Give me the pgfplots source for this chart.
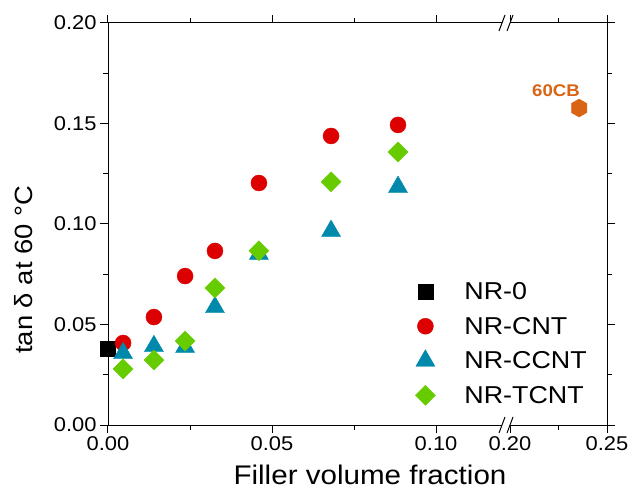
\documentclass[border=0pt]{standalone}
\usepackage{pgfplots}
\pgfplotsset{compat=1.18}
\usepackage{fontspec}
\setmainfont{Liberation Sans}[FakeStretch=1.1]
\usetikzlibrary{plotmarks}

\definecolor{cntred}{RGB}{221,0,0}
\definecolor{ccntblue}{RGB}{0,137,170}
\definecolor{tcntgreen}{RGB}{102,204,0}
\definecolor{cborange}{RGB}{217,100,20}

\pgfdeclareplotmark{hexagon*}{%
  \pgfpathmoveto{\pgfpointpolar{90}{\pgfplotmarksize}}%
  \pgfpathlineto{\pgfpointpolar{150}{\pgfplotmarksize}}%
  \pgfpathlineto{\pgfpointpolar{210}{\pgfplotmarksize}}%
  \pgfpathlineto{\pgfpointpolar{270}{\pgfplotmarksize}}%
  \pgfpathlineto{\pgfpointpolar{330}{\pgfplotmarksize}}%
  \pgfpathlineto{\pgfpointpolar{30}{\pgfplotmarksize}}%
  \pgfpathclose
  \pgfusepathqfillstroke}

\pgfplotsset{
  common/.style={
    scale only axis, height=402bp,
    ymin=0, ymax=0.2,
    ytick={0,0.05,0.1,0.15,0.2},
    minor y tick num=1,
    tick align=outside,
    major tick length=8bp, minor tick length=5bp,
    axis line style={draw=none},
    every tick/.style={black,line width=1bp},
    tick label style={font=\fontsize{20}{24}\selectfont},
    /pgf/number format/assume math mode=true,
    xticklabel style={/pgf/number format/fixed,/pgf/number format/fixed zerofill,/pgf/number format/precision=2},
    yticklabel style={/pgf/number format/fixed,/pgf/number format/fixed zerofill,/pgf/number format/precision=2},
    clip=false,
    only marks,
  }
}

\begin{document}
\begin{tikzpicture}
\path[use as bounding box] (-108bp,-65bp) rectangle (520bp,425bp);
\begin{axis}[common, name=A, at={(0,0)}, anchor=south west,
  width=394bp, xmin=0, xmax=0.1201,
  xtick={0,0.05,0.1}, minor x tick num=1,
  ytick pos=left,
  xlabel={Filler volume fraction},
  xlabel style={font=\fontsize{27}{32}\selectfont, at={(axis description cs:0.665,0)}, anchor=north, yshift=-36bp},
  ylabel={tan δ at 60 °C},
  ylabel style={font=\fontsize{25}{30}\selectfont, at={(axis description cs:-0.213,0.386)}, anchor=center},
  legend style={draw=none, fill=none, at={(axis description cs:0.772,0.365)}, anchor=north west,
    font=\fontsize{24.5}{29}\selectfont, row sep=12bp, legend cell align=left,
    /tikz/every odd column/.append style={column sep=27bp}},
  legend image code/.code={\draw[mark repeat=2,mark phase=2] plot coordinates {(0bp,0bp)(15bp,0bp)(30bp,0bp)};},
]
\addplot[mark=square*, mark size=7.3bp, black] coordinates {(0,0.038)};
\addlegendentry{NR-0}
\addplot[mark=*, mark size=8bp, cntred, mark options={fill=cntred,draw=cntred}] coordinates {
(0.0046,0.0408) (0.0140,0.0537) (0.0235,0.0741) (0.0326,0.0866) (0.0460,0.1204) (0.0680,0.1438) (0.0884,0.1493)};
\addlegendentry{NR-CNT}
\addplot[mark=triangle*, mark size=11bp, ccntblue, mark options={fill=ccntblue,draw=ccntblue}] coordinates {
(0.0046,0.0357) (0.0140,0.0392) (0.0235,0.0388) (0.0326,0.0586) (0.0460,0.0851) (0.0680,0.0965) (0.0884,0.1184)};
\addlegendentry{NR-CCNT}
\addplot[mark=square*, mark size=7.1bp, tcntgreen, mark options={fill=tcntgreen,draw=tcntgreen,rotate=45}] coordinates {
(0.0046,0.0279) (0.0140,0.0323) (0.0235,0.0418) (0.0326,0.0682) (0.0460,0.0867) (0.0680,0.1210) (0.0884,0.1358)};
\addlegendentry{NR-TCNT}
\end{axis}
\begin{axis}[common, name=B, at={(402bp,0)}, anchor=south west,
  width=97bp, xmin=0.2, xmax=0.25,
  xtick={0.2,0.25}, minor x tick num=1,
  ytick pos=right, yticklabels={},
]
\addplot[mark=hexagon*, mark size=9bp, cborange, mark options={fill=cborange,draw=cborange}] coordinates {(0.2356,0.1577)};
\node[text=cborange, font=\bfseries\fontsize{17}{20}\selectfont] at (axis cs:0.2237,0.1662) {60CB};
\end{axis}
\draw[line width=1bp] (A.south east) -- (A.south west) -- (A.north west) -- (A.north east);
\draw[line width=1bp] (B.south west) -- (B.south east) -- (B.north east) -- (B.north west);
\foreach \p in {A.south east, A.north east, B.south west, B.north west}
  \draw[line width=1bp] ([shift={(-3bp,-8bp)}]\p) -- ++(6bp,16bp);
\end{tikzpicture}
\end{document}
